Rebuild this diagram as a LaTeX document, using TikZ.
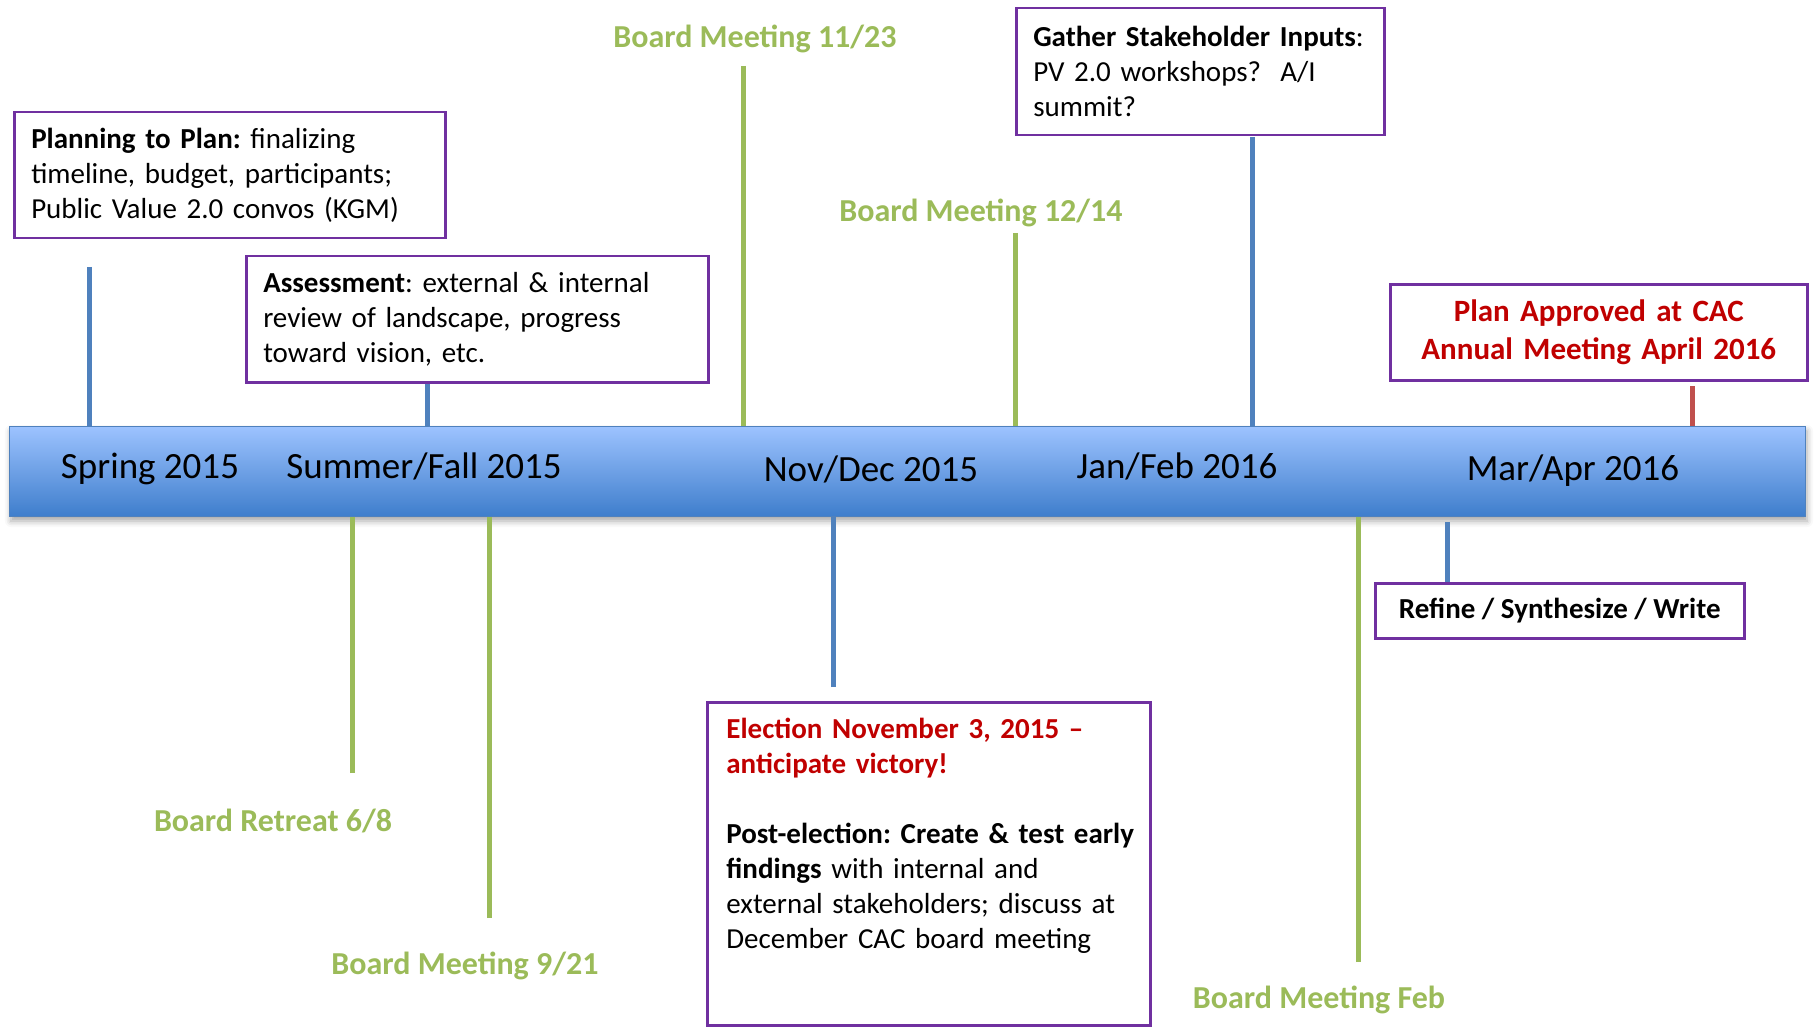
\documentclass[tikz,border=0pt]{standalone}
\usepackage{fontspec}
\setmainfont{Carlito}
\usepackage{xcolor}
\usetikzlibrary{shadows.blur}
\frenchspacing
\definecolor{boxpurple}{HTML}{7030A0}
\definecolor{tickblue}{HTML}{4F81BD}
\definecolor{tickgreen}{HTML}{9BBB59}
\definecolor{tickred}{HTML}{C0504D}
\definecolor{textred}{HTML}{C00000}
\definecolor{bartop}{HTML}{9DC3FF}
\definecolor{barmid}{HTML}{78A6EC}
\definecolor{barbot}{HTML}{3F7ECC}

\begin{document}
\begin{tikzpicture}[x=0.5pt, y=-0.5pt,
  box/.style={draw=boxpurple, line width=1.25pt, anchor=north west, inner xsep=8.5pt, inner ysep=0pt, align=left, font=\fontsize{14.5}{17.5}\selectfont},
  period/.style={anchor=base, font=\fontsize{18.5}{22}\selectfont},
  meeting/.style={anchor=base, text=tickgreen, font=\bfseries\fontsize{16}{19}\selectfont},
  tick/.style={line width=2.5pt}]
  \useasboundingbox (0,0) rectangle (1814,1027);

  % timeline bar
  \node[draw=tickblue, line width=0.5pt, top color=bartop, middle color=barmid, bottom color=barbot,
    minimum width=898pt, minimum height=45pt, inner sep=0pt,
    blur shadow={shadow xshift=1pt, shadow yshift=-2.5pt, shadow blur radius=3pt, shadow opacity=35}] (bar) at (907,471) {};
  \node[period] (spring) at (150,478) {Spring 2015};
  \node[period] (summer) at (424,478) {Summer/Fall 2015};
  \node[period] (novdec) at (871,481) {Nov/Dec 2015};
  \node[period] (janfeb) at (1177,478) {Jan/Feb 2016};
  \node[period] (marapr) at (1573,480) {Mar/Apr 2016};

  % boxes
  \node[box, text width=198.5pt, minimum height=63pt] (planbox) at (13,111)
    {\textbf{Planning to Plan:} finalizing\\ timeline, budget, participants;\\ Public Value 2.0 convos (KGM)};
  \node[box, text width=214pt, minimum height=63pt] (assessbox) at (245,255)
    {\textbf{Assessment}: external \& internal\\ review of landscape, progress\\ toward vision, etc.};
  \node[box, text width=167pt, minimum height=63.5pt] (gatherbox) at (1015,7)
    {\textbf{Gather Stakeholder Inputs}:\\ PV 2.0 workshops?~~A/I\\ summit?};
  \node[box, align=center, text width=191.5pt, minimum height=48pt, text=textred,
    font=\bfseries\fontsize{15.5}{19}\selectfont] (approvebox) at (1389,283)
    {Plan Approved at CAC\\ Annual Meeting April 2016};
  \node[box, align=center, minimum width=184.5pt, minimum height=27.5pt, font=\bfseries\fontsize{14.5}{17.5}\selectfont] (refinebox) at (1374,582)
    {Refine / Synthesize / Write};
  \node[draw=boxpurple, line width=1.25pt, anchor=north west, minimum width=221.5pt, minimum height=161.5pt, inner sep=0pt] (electbox) at (706,701) {};
  \node[anchor=north west, inner sep=0pt, align=left, text width=212pt, font=\fontsize{14.5}{17.5}\selectfont] (electtext) at (726,718)
    {\textcolor{textred}{\textbf{Election November 3, 2015 --}}\\
     \textcolor{textred}{\textbf{anticipate victory!}}\\[17.5pt]
     \textbf{Post-election: Create \& test early}\\
     \textbf{findings} with internal and\\
     external stakeholders; discuss at\\
     December CAC board meeting};

  % board meetings
  \node[meeting] (bm1123) at (755,48) {Board Meeting 11/23};
  \node[meeting] (bm1214) at (981,221) {Board Meeting 12/14};
  \node[meeting] (retreat) at (273,831) {Board Retreat 6/8};
  \node[meeting] (bm921) at (465,974) {Board Meeting 9/21};
  \node[meeting] (bmfeb) at (1319,1008) {Board Meeting Feb};

  % ticks above the bar
  \draw[tick, tickblue] (89,267) coordinate (plantick) -- (plantick |- bar.north);
  \draw[tick, tickblue] (427,384) coordinate (assesstick) -- (assesstick |- bar.north);
  \draw[tick, tickgreen] (743,66) coordinate (tick1123) -- (tick1123 |- bar.north);
  \draw[tick, tickgreen] (1015,233) coordinate (tick1214) -- (tick1214 |- bar.north);
  \draw[tick, tickblue] (1252,137) coordinate (gathertick) -- (gathertick |- bar.north);
  \draw[tick, tickred] (1692,386) coordinate (approvetick) -- (approvetick |- bar.north);
  % ticks below the bar
  \draw[tick, tickgreen] (352,773) coordinate (retreattick) -- (retreattick |- bar.south);
  \draw[tick, tickgreen] (489,918) coordinate (tick921) -- (tick921 |- bar.south);
  \draw[tick, tickblue] (833,687) coordinate (electtick) -- (electtick |- bar.south);
  \draw[tick, tickgreen] (1358,962) coordinate (tickfeb) -- (tickfeb |- bar.south);
  \draw[tick, tickblue] (1447,522) coordinate (refinetick) -- (refinetick |- refinebox.north);
\end{tikzpicture}
\end{document}
